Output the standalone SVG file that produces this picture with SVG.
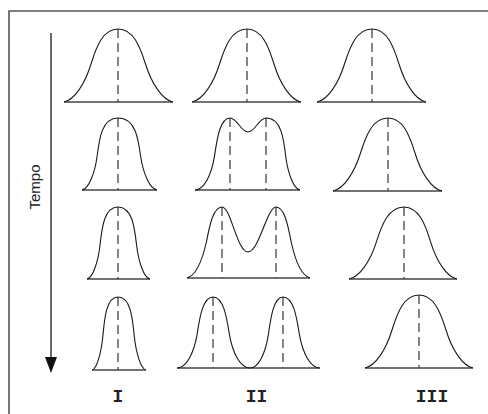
<svg xmlns="http://www.w3.org/2000/svg" width="488" height="414" viewBox="0 0 488 414">
<style>
.curve{fill:none;stroke:#1a1a1a;stroke-width:1.1}
.base{stroke:#444;stroke-width:1.4}
.dash{stroke:#444;stroke-width:1.3;stroke-dasharray:9 5}
.frame{stroke:#555;stroke-width:1.6;fill:none}
.lbl{font-family:"Liberation Mono","DejaVu Sans Mono",monospace;font-weight:bold;font-size:18px;fill:#222;text-anchor:middle}
.axis{font-family:"Liberation Sans",Arial,sans-serif;font-size:15px;fill:#222;text-anchor:middle}
</style>
<rect width="488" height="414" fill="#fff"/>
<g id="frame">
<path class="frame" d="M9,414 V11 H488"/>
</g>
<g id="connectors">
<line x1="51" y1="33" x2="51" y2="360" stroke="#444" stroke-width="1.6"/>
<polygon points="45,357 57,357 51,373" fill="#111"/>
</g>
<text class="axis" transform="translate(40,187) rotate(-90)">Tempo</text>

<g id="r1c1">
<line class="base" x1="64" y1="102" x2="173" y2="102"/>
<line class="dash" x1="118" y1="29" x2="118" y2="102"/>
<path class="curve" d="M64,102 C74.8,99.8 85.1,83.3 91,64 C96.4,46.5 102.9,29 118,29 C133.4,29 140,46.5 145.5,64 C151.6,83.3 162,99.8 173,102"/>
</g>
<g id="r1c2">
<line class="base" x1="192" y1="102" x2="301" y2="102"/>
<line class="dash" x1="247" y1="29" x2="247" y2="102"/>
<path class="curve" d="M192,102 C203,99.8 213.5,83.3 219.5,64 C225,46.5 231.6,29 247,29 C262.1,29 268.6,46.5 274,64 C279.9,83.3 290.2,99.8 301,102"/>
</g>
<g id="r1c3">
<line class="base" x1="317" y1="102" x2="426" y2="102"/>
<line class="dash" x1="372" y1="29" x2="372" y2="102"/>
<path class="curve" d="M317,102 C328,99.8 338.5,83.3 344.5,64 C350,46.5 356.6,29 372,29 C387.1,29 393.6,46.5 399,64 C404.9,83.3 415.2,99.8 426,102"/>
</g>

<g id="r2c1">
<line class="base" x1="82" y1="190" x2="157" y2="190"/>
<line class="dash" x1="118" y1="118" x2="118" y2="190"/>
<path class="curve" d="M82,190 C88.8,189 94.8,173 97.1,156.2 C99.3,138.9 101.8,118 118,118 C135.6,118 138.3,138.9 140.6,156.2 C143.2,173 149.6,189 157,190"/>
</g>
<g id="r2c2">
<line class="base" x1="195" y1="190" x2="300" y2="190"/>
<line class="dash" x1="230" y1="118" x2="230" y2="190"/>
<line class="dash" x1="266" y1="118" x2="266" y2="190"/>
<path class="curve" d="M195,190 C203.8,190 211.5,175.6 214.6,155.4 C217.1,138.2 220.2,118 230,118 C237,118 241,132 248,132 C255,132 259,118 266,118 C281.3,118 283.7,138.9 285.7,156.2 C287.9,173 293.5,189 300,190"/>
</g>
<g id="r2c3">
<line class="base" x1="333" y1="191" x2="442" y2="191"/>
<line class="dash" x1="388" y1="118" x2="388" y2="191"/>
<path class="curve" d="M333,191 C344,188.8 354.5,172.3 360.5,153 C366,135.5 372.6,118 388,118 C403.1,118 409.6,135.5 415,153 C420.9,172.3 431.2,188.8 442,191"/>
</g>

<g id="r3c1">
<line class="base" x1="87" y1="279" x2="150" y2="279"/>
<line class="dash" x1="118" y1="207" x2="118" y2="279"/>
<path class="curve" d="M87,279 C92.9,278 98,262 100,245.2 C101.9,227.9 104.1,207 118,207 C132.4,207 134.6,227.9 136.6,245.2 C138.6,262 143.9,278 150,279"/>
</g>
<g id="r3c2">
<line class="base" x1="187" y1="278" x2="310" y2="278"/>
<line class="dash" x1="222" y1="207" x2="222" y2="278"/>
<line class="dash" x1="276" y1="207" x2="276" y2="278"/>
<path class="curve" d="M187,278 C194.7,275.9 201.7,262.4 206.3,242.5 C209.4,226.9 212.9,207 222,207 C231,207 237,252 248,252 C259,252 267,207 276,207 C284.8,207 288.2,226.9 291.3,242.5 C295.7,262.4 302.5,275.9 310,278"/>
</g>
<g id="r3c3">
<line class="base" x1="349" y1="279" x2="457" y2="279"/>
<line class="dash" x1="404" y1="207" x2="404" y2="279"/>
<path class="curve" d="M349,279 C360,276.8 370.5,260.6 376.5,241.6 C382,224.3 388.6,207 404,207 C418.8,207 425.2,224.3 430.5,241.6 C436.3,260.6 446.4,276.8 457,279"/>
</g>

<g id="r4c1">
<line class="base" x1="92" y1="370" x2="146" y2="370"/>
<line class="dash" x1="118" y1="297" x2="118" y2="370"/>
<path class="curve" d="M92,370 C96.9,369 101.2,352.8 102.9,335.7 C104.5,318.2 106.3,297 118,297 C130.6,297 132.6,318.2 134.2,335.7 C136.1,352.8 140.7,369 146,370"/>
</g>
<g id="r4c2">
<line class="base" x1="177" y1="368" x2="320" y2="368"/>
<line class="dash" x1="213" y1="297" x2="213" y2="368"/>
<line class="dash" x1="283" y1="297" x2="283" y2="368"/>
<path class="curve" d="M177,368 C186,368 193.9,353.8 197.2,333.9 C199.7,316.9 202.9,297 213,297 C223.4,297 226.7,316.9 229.3,333.9 C232.6,353.8 240.8,368 250,368 C258.3,368 265.5,353.8 268.5,333.9 C270.8,316.9 273.8,297 283,297 C293.4,297 296.7,316.9 299.3,333.9 C302.6,353.8 310.8,368 320,368"/>
</g>
<g id="r4c3">
<line class="base" x1="365" y1="368" x2="473" y2="368"/>
<line class="dash" x1="419" y1="295" x2="419" y2="368"/>
<path class="curve" d="M365,368 C375.8,365.8 386.1,349.3 392,330 C397.4,312.5 403.9,295 419,295 C434.1,295 440.6,312.5 446,330 C451.9,349.3 462.2,365.8 473,368"/>
</g>

<g id="labels">
<text class="lbl" x="118" y="402">I</text>
<text class="lbl" x="256.5" y="402">II</text>
<text class="lbl" x="432" y="402">III</text>
</g>
</svg>
